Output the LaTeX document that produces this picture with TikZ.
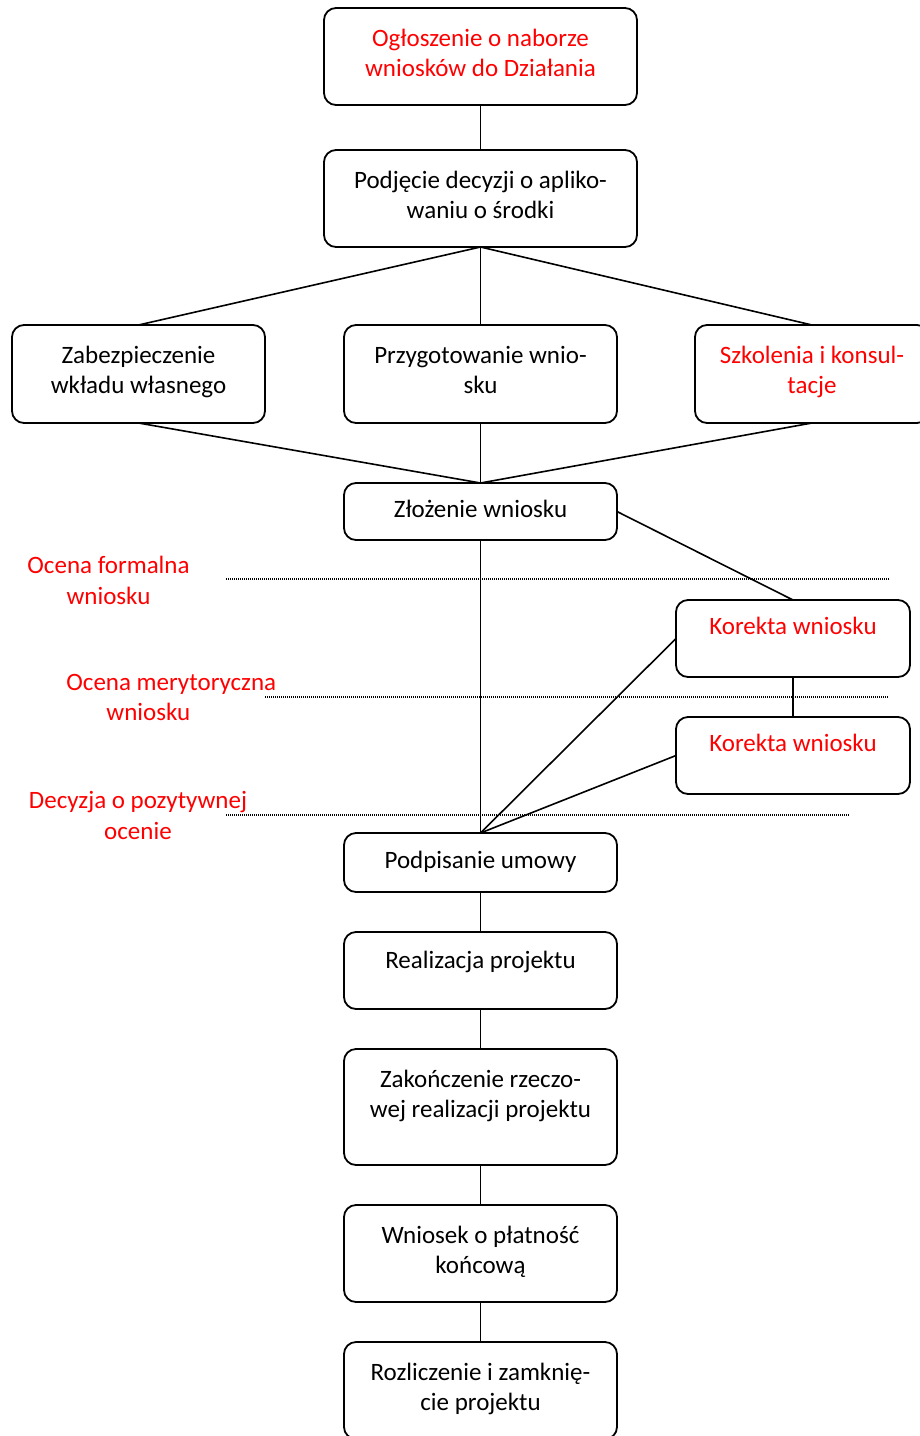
\documentclass[tikz,border=0pt]{standalone}
\usepackage{fontspec}
\setmainfont{Carlito}
\usepackage{tikz}
\usetikzlibrary{positioning}

\begin{document}
\begin{tikzpicture}[
    font=\fontsize{12.5}{15.25}\selectfont,
    stage/.style={draw=black, line width=0.9pt, rectangle, rounded corners=6pt, align=center, inner xsep=2pt, inner ysep=0pt, outer sep=0pt, minimum width=136.5pt, text height=18pt},
    twoline/.style={text height=34.25pt},
    redstage/.style={stage, text=red},
    edge/.style={line width=0.8pt},
    sep/.style={line width=0.6pt, dash pattern=on 0.5pt off 0.5pt},
    phase/.style={text=red, inner sep=0pt, align=center}
]
\useasboundingbox (0pt,0pt) rectangle (460pt,-718pt);
\clip (0pt,0pt) rectangle (460pt,-718pt);

% Knoten
\node[redstage, twoline, minimum width=156.5pt, text depth=14.25pt] (ann) at (240.25pt,-28.25pt) {Ogłoszenie o naborze\\wniosków do Działania};
\node[stage, twoline, minimum width=156.5pt, text depth=14.25pt, below=22.5pt of ann] (dec) {Podjęcie decyzji o apliko-\\waniu o środki};
\node[stage, twoline, text depth=14.75pt, below=39pt of dec] (prep) {Przygotowanie wnio-\\sku};
\node[stage, twoline, minimum width=126.5pt, text depth=14.75pt, left=39.5pt of prep] (own) {Zabezpieczenie\\wkładu własnego};
\node[redstage, twoline, minimum width=117pt, text depth=14.75pt, right=39pt of prep] (train) {Szkolenia i konsul-\\tacje};
\node[stage, text height=17pt, text depth=11.5pt, below=30pt of prep] (sub) {Złożenie wniosku};
\node[redstage, text height=17pt, minimum width=117pt, text depth=21.5pt, below right=30pt and 29.5pt of sub] (cor1) {Korekta wniosku};
\node[redstage, text height=17pt, minimum width=117pt, text depth=21.5pt, below=20pt of cor1] (cor2) {Korekta wniosku};
\node[stage, text height=17.5pt, text depth=12pt, below=146.5pt of sub] (sign) {Podpisanie umowy};
\node[stage, text depth=20.5pt, below=20pt of sign] (impl) {Realizacja projektu};
\node[stage, twoline, text depth=23.75pt, below=20pt of impl] (fin) {Zakończenie rzeczo-\\wej realizacji projektu};
\node[stage, twoline, text depth=14.25pt, below=20pt of fin] (pay) {Wniosek o płatność\\końcową};
\node[stage, twoline, text depth=14.25pt, below=20pt of pay] (close) {Rozliczenie i zamknię-\\cie projektu};

% Etappen der Bewertung
\node[phase] (formal) at (54.25pt,-290.25pt) {Ocena formalna\\wniosku};
\node[phase, anchor=west, align=left] (merit) at (33pt,-348.75pt) {Ocena merytoryczna\\\hspace*{20pt}wniosku};
\node[phase] (decision) at (69pt,-407.75pt) {Decyzja o pozytywnej\\ocenie};

% Trennlinien
\draw[sep] (113pt,-289.5pt) -- (445pt,-289.5pt);
\draw[sep] (132.5pt,-348.5pt) -- (444pt,-348.5pt);
\draw[sep] (113pt,-407.5pt) -- (424.5pt,-407.5pt);

% Kanten zwischen Knoten
\draw[edge] (ann.south) -- (dec.north);
\draw[edge] (dec.south) -- (own.north);
\draw[edge] (dec.south) -- (prep.north);
\draw[edge] (dec.south) -- (train.north);
\draw[edge] (own.south) -- (sub.north);
\draw[edge] (prep.south) -- (sub.north);
\draw[edge] (train.south) -- (sub.north);
\draw[edge] (sub.east) -- (cor1.north);
\draw[edge] (cor1.south) -- (cor2.north);
\draw[edge] (sub.south) -- (sign.north);
\draw[edge] (cor1.west) -- (sign.north);
\draw[edge] (cor2.west) -- (sign.north);
\draw[edge] (sign.south) -- (impl.north);
\draw[edge] (impl.south) -- (fin.north);
\draw[edge] (fin.south) -- (pay.north);
\draw[edge] (pay.south) -- (close.north);

\end{tikzpicture}
\end{document}
